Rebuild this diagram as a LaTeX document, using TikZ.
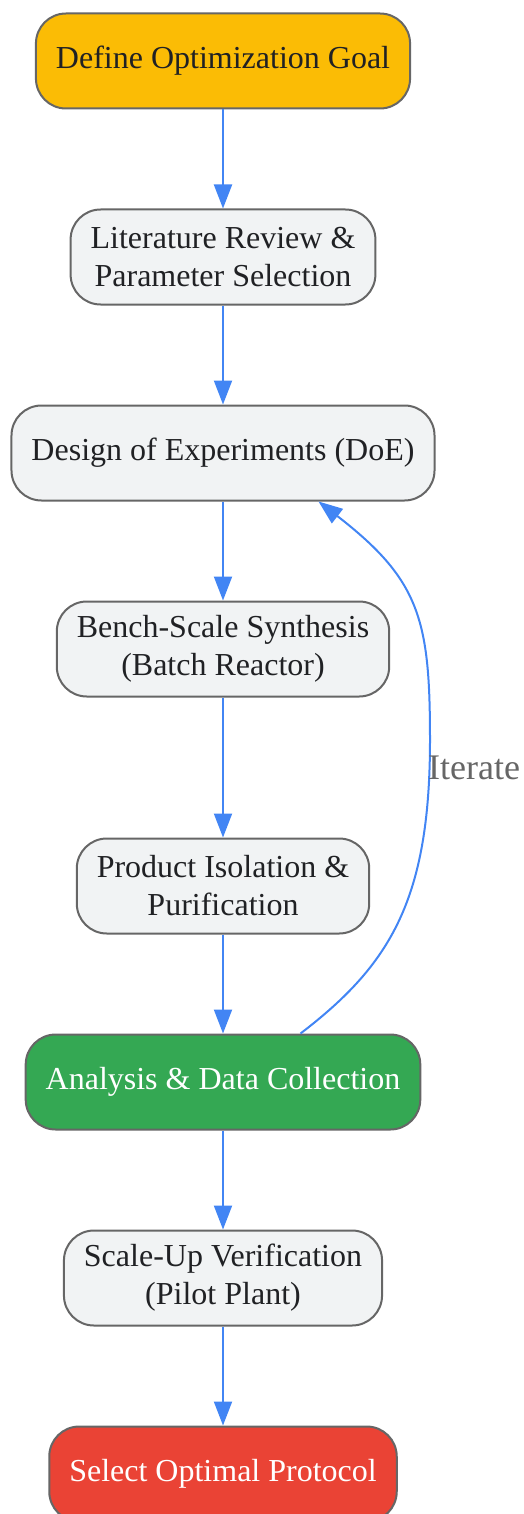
\documentclass[tikz,border=0pt]{standalone}
\usepackage{fontspec}
\setmainfont{Liberation Serif}
\usetikzlibrary{positioning,arrows.meta}
\definecolor{goalyellow}{HTML}{FBBC05}
\definecolor{stagegray}{HTML}{F1F3F4}
\definecolor{edgegray}{HTML}{666666}
\definecolor{darktext}{HTML}{202124}
\definecolor{datagreen}{HTML}{34A853}
\definecolor{endred}{HTML}{EA4335}
\definecolor{flowblue}{HTML}{4285F4}
\definecolor{labelgray}{HTML}{666666}
\tikzset{
  stage/.style={draw=edgegray, line width=1pt, fill=stagegray, rounded corners=15pt,
    minimum height=47.5pt, inner xsep=10pt, inner ysep=3pt, align=center,
    text=darktext, font=\fontsize{16}{19}\selectfont},
  flow/.style={draw=flowblue, line width=1pt, -{Triangle[length=12pt,width=9pt]}},
}
\begin{document}
\begin{tikzpicture}[node distance=49.5pt]
\useasboundingbox (0,0) rectangle (262pt,-757pt);
% stages of the workflow
\node[stage, fill=goalyellow] (goal) at (111.5pt,-30.5pt) {Define Optimization Goal};
\node[stage, below=of goal] (lit) {Literature Review \&\\Parameter Selection};
\node[stage, below=of lit] (doe) {Design of Experiments (DoE)};
\node[stage, below=of doe] (bench) {Bench-Scale Synthesis\\(Batch Reactor)};
\node[stage, below=70pt of bench] (purify) {Product Isolation \&\\Purification};
\node[stage, fill=datagreen, text=white, below=of purify] (analysis) {Analysis \& Data Collection};
\node[stage, below=of analysis] (scaleup) {Scale-Up Verification\\(Pilot Plant)};
\node[stage, fill=endred, text=white, below=of scaleup] (select) {Select Optimal Protocol};
% main flow
\draw[flow] (goal) -- (lit);
\draw[flow] (lit) -- (doe);
\draw[flow] (doe) -- (bench);
\draw[flow] (bench) -- (purify);
\draw[flow] (purify) -- (analysis);
\draw[flow] (analysis) -- (scaleup);
\draw[flow] (scaleup) -- (select);
% loop back
\draw[flow] ([xshift=38.75pt]analysis.north) .. controls (195pt,-482.5pt) and (215pt,-450pt) .. (215pt,-370pt)
  .. controls (215pt,-310pt) and (210pt,-290pt) .. ([xshift=47.75pt]doe.south);
\node[text=labelgray, font=\fontsize{18}{21}\selectfont] (iterlbl) at (237pt,-384pt) {Iterate};
\end{tikzpicture}
\end{document}
